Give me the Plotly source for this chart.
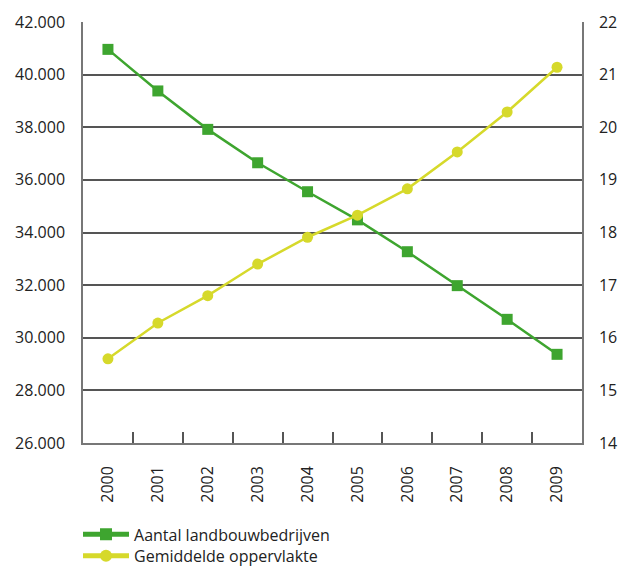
import plotly.graph_objects as go

years = ["2000", "2001", "2002", "2003", "2004", "2005", "2006", "2007", "2008", "2009"]
aantal = [40960, 39380, 37920, 36650, 35550, 34480, 33270, 31980, 30700, 29370]
oppervlakte = [15.60, 16.28, 16.80, 17.40, 17.91, 18.33, 18.83, 19.53, 20.29, 21.14]

green = "#3ea52f"
yellow = "#d6d92b"
font = "Open Sans"
fsize = 16

fig = go.Figure()
fig.add_trace(go.Scatter(
    x=years, y=aantal, name="Aantal landbouwbedrijven", mode="lines+markers",
    line=dict(color=green, width=2.5),
    marker=dict(symbol="square", size=11, color=green),
    yaxis="y", legend="legend"))
fig.add_trace(go.Scatter(
    x=years, y=oppervlakte, name="Gemiddelde oppervlakte", mode="lines+markers",
    line=dict(color=yellow, width=2.5),
    marker=dict(symbol="circle", size=11, color=yellow),
    yaxis="y2", legend="legend2"))

legend_common = dict(xanchor="left", yanchor="middle", bgcolor="rgba(0,0,0,0)",
                     font=dict(family=font, size=16, color="#222222"),
                     itemsizing="constant", itemwidth=46)

fig.update_layout(
    width=619, height=568,
    margin=dict(l=83, r=37, t=22, b=125, autoexpand=False),
    paper_bgcolor="white", plot_bgcolor="white",
    separators=",.",
    font=dict(family=font, size=fsize, color="#222222"),
    showlegend=True,
    legend=dict(x=-0.01, y=-0.217, **legend_common),
    legend2=dict(x=-0.01, y=-0.268, **legend_common),
    xaxis=dict(type="category", range=[-0.5, 9.5], tickangle=-90, tickson="boundaries",
               ticks="inside", ticklen=11, tickcolor="#555555", tickwidth=1.5,
               showline=True, linecolor="#777777", linewidth=1.5,
               showgrid=False, ticklabelstandoff=15, automargin=False),
    yaxis=dict(range=[26000, 42000], dtick=2000, tickformat=",.0f",
               showgrid=True, gridcolor="#555555", gridwidth=1.5,
               showline=True, linecolor="#777777", linewidth=1.5,
               ticks="", zeroline=False, ticklabelstandoff=13, automargin=False),
    yaxis2=dict(range=[14, 22], dtick=1, overlaying="y", side="right",
                showgrid=False, showline=True, linecolor="#777777", linewidth=1.5,
                ticks="", zeroline=False, ticklabelstandoff=12, automargin=False),
)

fig.write_html("out.html", config={"displayModeBar": False},
               post_script="document.documentElement.style.overflow='hidden';document.body.style.margin='0';document.body.style.overflow='hidden';")
